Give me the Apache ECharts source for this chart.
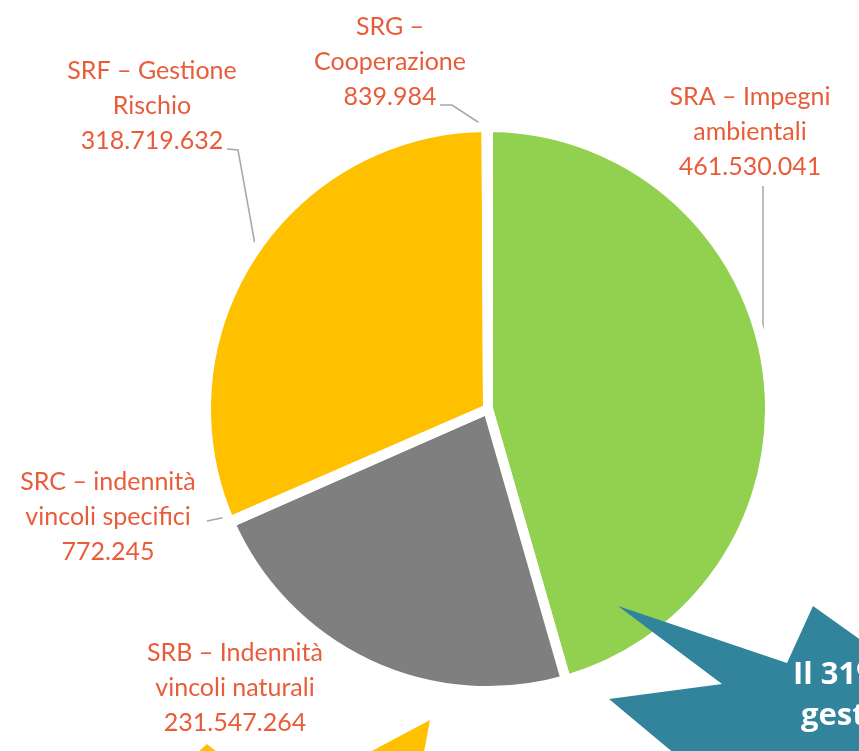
<!DOCTYPE html>
<html>
<head>
<meta charset="utf-8">
<script src="https://cdn.jsdelivr.net/npm/echarts@6/dist/echarts.min.js"></script>
<style>
html,body{margin:0;padding:0;background:#fff;}
#chart{width:859px;height:751px;}
</style>
</head>
<body>
<div id="chart"></div>
<script>
var names = ['SRA – Impegni\nambientali', 'SRB – Indennità\nvincoli naturali', 'SRC – indennità\nvincoli specifici', 'SRF – Gestione\nRischio', 'SRG –\nCooperazione'];
var values = [461530041, 231547264, 772245, 318719632, 839984];
var colors = ['#92D050', '#7F7F7F', '#5B9BD5', '#FFC000', '#A5A5A5'];

// label placement (layout only)
var labelPos = [
  {x: 750, y: 132, line: [[763, 186], [763, 186], [763, 368]]},
  {x: 235, y: 688, line: null},
  {x: 108, y: 517, line: [[207, 521], [207, 521], [236, 515]]},
  {x: 152, y: 106, line: [[227, 149], [238, 150], [256, 250]]},
  {x: 390, y: 62, line: [[440, 105], [452, 105], [487, 128]]}
];

function fmt(v) {
  return String(v).replace(/\B(?=(\d{3})+(?!\d))/g, '.');
}

var data = names.map(function (n, i) {
  return {
    name: n,
    value: values[i],
    itemStyle: {color: colors[i]},
    labelLine: {show: labelPos[i].line !== null}
  };
});

var chart = echarts.init(document.getElementById('chart'), null, {renderer: 'canvas'});
chart.setOption({
  backgroundColor: '#ffffff',
  animation: false,
  series: [{
    type: 'pie',
    center: [488, 409],
    radius: 282,
    startAngle: 90,
    clockwise: true,
    data: data,
    itemStyle: {borderColor: '#ffffff', borderWidth: 10},
    label: {
      show: true,
      formatter: function (p) { return p.name + '\n' + fmt(p.value); },
      color: '#E95C3A',
      fontFamily: 'Lato',
      fontSize: 25,
      lineHeight: 35,
      align: 'center',
      overflow: 'none',
      width: 300
    },
    labelLine: {
      show: true,
      lineStyle: {color: '#A6A6A6', width: 1.5}
    },
    labelLayout: function (params) {
      var p = labelPos[params.dataIndex];
      var r = {x: p.x, y: p.y, align: 'center', verticalAlign: 'middle'};
      if (p.line) r.labelLinePoints = p.line;
      return r;
    }
  }],
  graphic: [
    {
      type: 'polygon', z: 100,
      shape: {points: [[618, 606], [787, 663], [813, 606], [900, 668], [900, 800], [730, 800], [609, 699], [722, 684]]},
      style: {fill: '#31849B'}
    },
    {
      type: 'text', z: 101, left: 793, top: 660,
      style: {text: 'Il 31% della', fill: '#ffffff', font: 'bold 31px "Open Sans"'}
    },
    {
      type: 'text', z: 101, left: 801, top: 701,
      style: {text: 'gestione', fill: '#ffffff', font: 'bold 31px "Open Sans"'}
    },
    {
      type: 'polygon', z: 100,
      shape: {points: [[370, 752], [430, 720], [424, 752]]},
      style: {fill: '#FFC000'}
    },
    {
      type: 'polygon', z: 100,
      shape: {points: [[198, 752], [207, 744], [217, 752]]},
      style: {fill: '#FFC000'}
    }
  ]
});
</script>
</body>
</html>
